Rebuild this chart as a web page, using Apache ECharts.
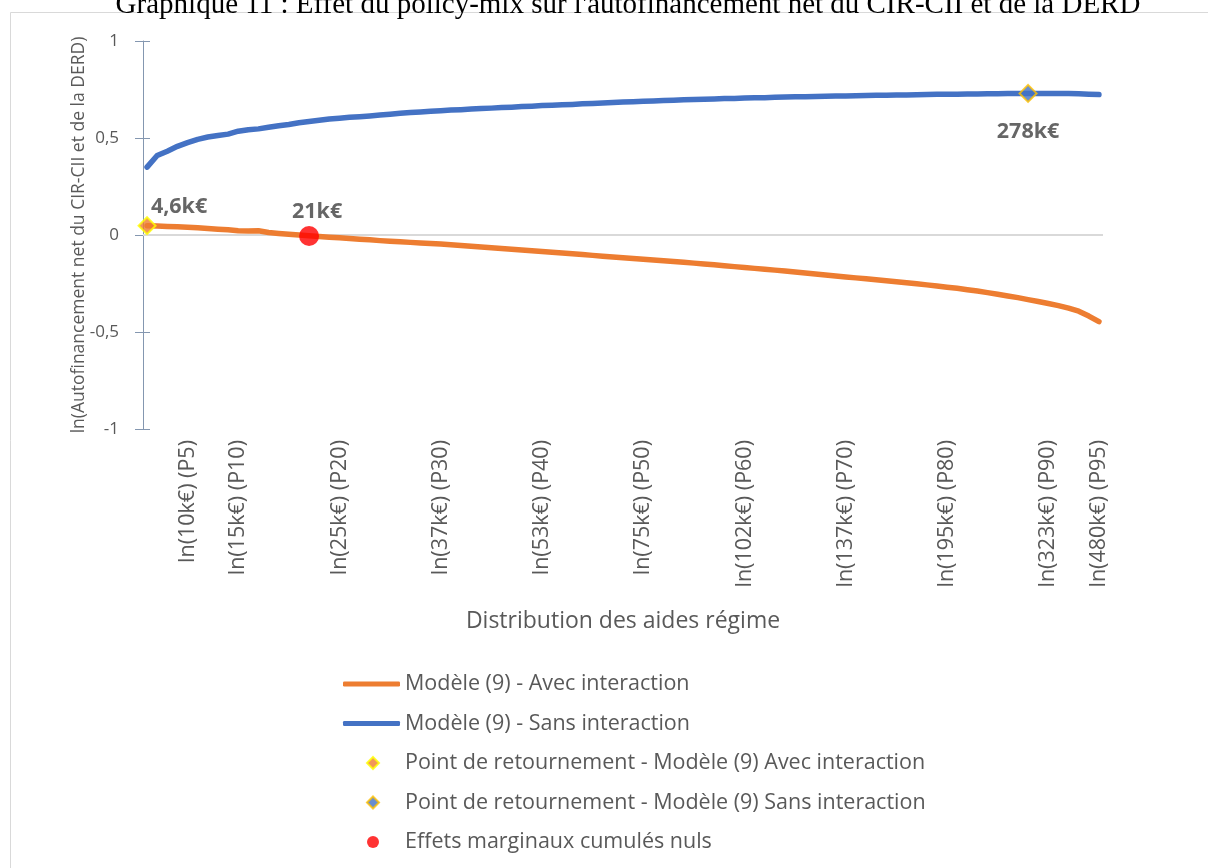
<!DOCTYPE html>
<html>
<head>
<meta charset="utf-8">
<script src="https://cdn.jsdelivr.net/npm/echarts@6/dist/echarts.min.js"></script>
<style>
  html, body { margin: 0; padding: 0; background: #fff; }
  #chart { width: 1208px; height: 868px; }
</style>
</head>
<body>
<div id="chart"></div>
<script>
// Tick labels shown on the horizontal axis (percentile -> label)
const tickPercentiles = [5, 10, 20, 30, 40, 50, 60, 70, 80, 90, 95];
const tickLabels = [
  'ln(10k€) (P5)', 'ln(15k€) (P10)', 'ln(25k€) (P20)', 'ln(37k€) (P30)',
  'ln(53k€) (P40)', 'ln(75k€) (P50)', 'ln(102k€) (P60)', 'ln(137k€) (P70)',
  'ln(195k€) (P80)', 'ln(323k€) (P90)', 'ln(480k€) (P95)'
];

// Modèle (9) - Avec interaction, P1..P95
const avecInteraction = [
  0.048, 0.046, 0.044, 0.042, 0.040, 0.037, 0.034, 0.030, 0.027, 0.022,
  0.020, 0.022, 0.013, 0.008, 0.004, 0.000, -0.004, -0.008, -0.011, -0.014,
  -0.018, -0.022, -0.025, -0.029, -0.032, -0.035, -0.038, -0.041, -0.044, -0.047,
  -0.050, -0.054, -0.058, -0.062, -0.066, -0.070, -0.073, -0.077, -0.081, -0.085,
  -0.089, -0.093, -0.097, -0.101, -0.105, -0.109, -0.113, -0.117, -0.121, -0.125,
  -0.129, -0.133, -0.137, -0.141, -0.145, -0.149, -0.153, -0.158, -0.163, -0.167,
  -0.172, -0.176, -0.181, -0.186, -0.191, -0.196, -0.201, -0.206, -0.211, -0.216,
  -0.221, -0.226, -0.231, -0.236, -0.241, -0.246, -0.251, -0.257, -0.263, -0.269,
  -0.275, -0.282, -0.289, -0.297, -0.305, -0.314, -0.323, -0.333, -0.343, -0.353,
  -0.364, -0.377, -0.393, -0.418, -0.447
];

// Modèle (9) - Sans interaction, P1..P95
const sansInteraction = [
  0.350, 0.410, 0.432, 0.457, 0.476, 0.493, 0.505, 0.513, 0.520, 0.535,
  0.543, 0.547, 0.555, 0.563, 0.570, 0.579, 0.585, 0.591, 0.598, 0.602,
  0.607, 0.610, 0.614, 0.618, 0.623, 0.627, 0.631, 0.634, 0.638, 0.641,
  0.644, 0.646, 0.649, 0.652, 0.654, 0.657, 0.659, 0.662, 0.664, 0.667,
  0.669, 0.671, 0.673, 0.676, 0.678, 0.680, 0.683, 0.685, 0.687, 0.689,
  0.691, 0.693, 0.695, 0.697, 0.698, 0.700, 0.701, 0.703, 0.704, 0.706,
  0.707, 0.708, 0.710, 0.711, 0.712, 0.713, 0.714, 0.715, 0.716, 0.717,
  0.718, 0.719, 0.720, 0.721, 0.722, 0.722, 0.723, 0.724, 0.725, 0.725,
  0.726, 0.727, 0.727, 0.728, 0.728, 0.729, 0.729, 0.730, 0.730, 0.730,
  0.729, 0.729, 0.728, 0.726, 0.724
];

// Highlighted points: [percentile, value] and their captions
const retournementAvec = [1, 0.048];
const retournementAvecLabel = '4,6k€';
const retournementSans = [88, 0.730];
const retournementSansLabel = '278k€';
const effetsNuls = [17, -0.005];
const effetsNulsLabel = '21k€';

const seriesNames = [
  'Modèle (9) - Avec interaction',
  'Modèle (9) - Sans interaction',
  'Point de retournement - Modèle (9) Avec interaction',
  'Point de retournement - Modèle (9) Sans interaction',
  'Effets marginaux cumulés nuls'
];

const FONT = '"Open Sans", "Noto Sans", sans-serif';
const GREY_TEXT = '#595959';
const ORANGE = '#ED7D31';
const BLUE = '#4472C4';
const AXIS_BLUE_GREY = '#8497B0';

const toPairs = arr => arr.map((v, i) => [i + 1, v]);
const fmtY = v => String(v).replace('.', ',');

const chart = echarts.init(document.getElementById('chart'), null, { renderer: 'canvas' });

const legendText = { fontSize: 21.5, color: GREY_TEXT, fontFamily: FONT, lineHeight: 24 };
const pointLabel = { fontSize: 21.5, fontWeight: 'bold', color: '#404040', fontFamily: FONT };

const option = {
  backgroundColor: '#ffffff',
  animation: false,
  textStyle: { fontFamily: FONT },
  graphic: [
    {
      type: 'rect', silent: true, z: -10,
      shape: { x: 10.5, y: 12.5, width: 1300, height: 1000 },
      style: { fill: '#ffffff', stroke: '#D9D9D9', lineWidth: 1 }
    },
    {
      type: 'text', silent: true, z: 10,
      x: 628, y: 5,
      style: {
        text: "Graphique 11 : Effet du policy-mix sur l'autofinancement net du CIR-CII et de la DERD",
        font: '29px "Liberation Serif", "Times New Roman", serif',
        fill: '#000000', align: 'center', verticalAlign: 'middle'
      }
    }
  ],
  grid: { left: 143, top: 41, width: 960, height: 388, containLabel: false },
  xAxis: {
    type: 'value',
    min: 0.6, max: 95.4,
    axisLine: { show: false, onZero: false },
    axisTick: { show: false },
    splitLine: { show: false },
    axisLabel: {
      customValues: tickPercentiles,
      rotate: 90,
      margin: 11,
      fontSize: 21.5,
      color: GREY_TEXT,
      fontFamily: FONT,
      formatter: v => tickLabels[tickPercentiles.indexOf(v)] || ''
    },
    name: 'Distribution des aides régime',
    nameLocation: 'middle',
    nameGap: 181,
    nameMoveOverlap: false,
    nameTextStyle: { fontSize: 23, color: GREY_TEXT, fontFamily: FONT }
  },
  yAxis: [
    {
      type: 'value',
      min: -1, max: 1, interval: 0.5,
      axisLine: { show: true, lineStyle: { color: AXIS_BLUE_GREY, width: 1 } },
      axisTick: { show: true, length: 8, lineStyle: { color: AXIS_BLUE_GREY } },
      splitLine: { show: false },
      axisLabel: {
        margin: 24, fontSize: 17, color: GREY_TEXT, fontFamily: FONT,
        formatter: fmtY
      },
      name: 'ln(Autofinancement net du CIR-CII et de la DERD)',
      nameLocation: 'middle',
      nameGap: 55,
      nameMoveOverlap: false,
      nameTextStyle: { fontSize: 17.5, color: GREY_TEXT, fontFamily: FONT }
    },
    {
      type: 'value',
      position: 'left',
      min: -1, max: 1, interval: 0.5,
      axisLine: { show: false },
      axisTick: { show: true, inside: true, length: 7, lineStyle: { color: AXIS_BLUE_GREY } },
      axisLabel: { show: false },
      splitLine: { show: false }
    }
  ],
  legend: [
    {
      orient: 'vertical',
      left: 343, top: 672,
      padding: 0,
      itemWidth: 57, itemHeight: 5,
      itemGap: 15.5,
      icon: 'roundRect',
      textStyle: legendText,
      data: seriesNames.slice(0, 2)
    },
    {
      orient: 'vertical',
      left: 366, top: 751,
      padding: 0,
      itemWidth: 12, itemHeight: 12,
      itemGap: 15.5,
      textStyle: Object.assign({ padding: [0, 0, 0, 21] }, legendText),
      data: seriesNames.slice(2)
    }
  ],
  series: [
    {
      name: seriesNames[0],
      type: 'line',
      data: toPairs(avecInteraction),
      symbol: 'none',
      z: 3,
      lineStyle: { color: ORANGE, width: 5.5, cap: 'round', join: 'round' },
      itemStyle: { color: ORANGE },
      markLine: {
        silent: true, symbol: 'none', z: 1,
        label: { show: false },
        lineStyle: { color: '#D9D9D9', width: 2, type: 'solid' },
        data: [{ yAxis: 0 }]
      }
    },
    {
      name: seriesNames[1],
      type: 'line',
      data: toPairs(sansInteraction),
      symbol: 'none',
      z: 3,
      lineStyle: { color: BLUE, width: 5.5, cap: 'round', join: 'round' },
      itemStyle: { color: BLUE }
    },
    {
      name: seriesNames[2],
      type: 'scatter',
      z: 5,
      symbol: 'diamond',
      symbolSize: 17,
      itemStyle: { color: ORANGE, borderColor: '#FFFF00', borderWidth: 2 },
      label: Object.assign({
        show: true, position: 'inside', offset: [32, -19],
        formatter: () => retournementAvecLabel
      }, pointLabel),
      data: [retournementAvec]
    },
    {
      name: seriesNames[3],
      type: 'scatter',
      z: 5,
      symbol: 'diamond',
      symbolSize: 17,
      itemStyle: { color: BLUE, borderColor: '#FFC000', borderWidth: 2 },
      label: Object.assign({
        show: true, position: 'inside', offset: [0, 38],
        formatter: () => retournementSansLabel
      }, pointLabel),
      data: [retournementSans]
    },
    {
      name: seriesNames[4],
      type: 'scatter',
      z: 5,
      symbol: 'circle',
      symbolSize: 20,
      itemStyle: { color: '#FF0000' },
      label: Object.assign({
        show: true, position: 'inside', offset: [8, -24],
        formatter: () => effetsNulsLabel
      }, pointLabel),
      data: [effetsNuls]
    }
  ]
};

chart.setOption(option);
</script>
</body>
</html>
